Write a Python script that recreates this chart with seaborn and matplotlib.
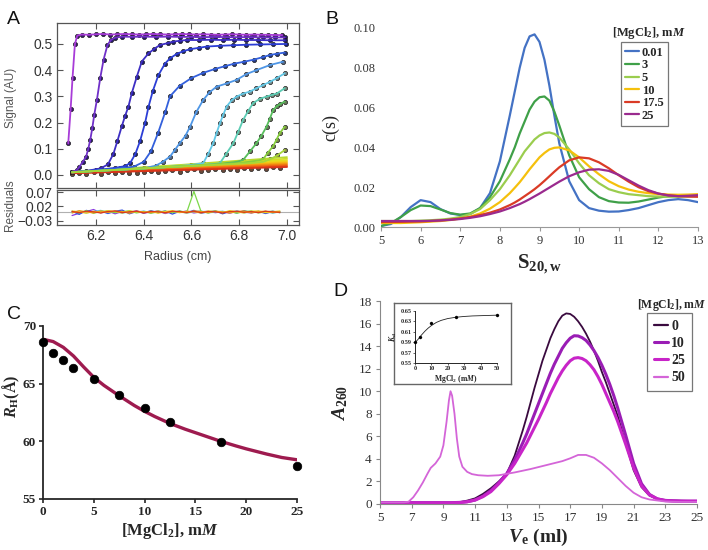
import numpy as np
import pandas as pd
import matplotlib
matplotlib.use('Agg')
import matplotlib.pyplot as plt
import seaborn as sns
from matplotlib.lines import Line2D

# ---------------- data: panel A (sedimentation boundaries) ----------------
r1 = [6.084, 6.094, 6.102, 6.112, 6.122, 6.14, 6.17, 6.20, 6.23, 6.26, 6.29, 6.32, 6.35, 6.38, 6.41, 6.44, 6.47,
      6.50, 6.53, 6.56, 6.59, 6.62, 6.65, 6.68, 6.71, 6.74, 6.77, 6.80, 6.83, 6.86, 6.89, 6.92, 6.95, 6.98]
s1 = [0.12, 0.25, 0.37, 0.50, 0.532, 0.536, 0.535, 0.537, 0.538, 0.536, 0.537, 0.538, 0.537, 0.536, 0.537, 0.538,
      0.537, 0.536, 0.537, 0.538, 0.537, 0.536, 0.537, 0.536, 0.535, 0.536, 0.537, 0.536, 0.535, 0.536, 0.535,
      0.535, 0.534, 0.534]
r2 = [6.10, 6.12, 6.13, 6.145, 6.159, 6.168, 6.176, 6.185, 6.193, 6.204, 6.218, 6.232, 6.248, 6.262, 6.28, 6.31,
      6.35, 6.40, 6.45, 6.50, 6.55, 6.60, 6.65, 6.70, 6.75, 6.80, 6.85, 6.90, 6.95, 6.99]
s2 = [0.012, 0.018, 0.03, 0.05, 0.07, 0.10, 0.133, 0.18, 0.23, 0.286, 0.37, 0.44, 0.495, 0.515, 0.524, 0.528, 0.527,
      0.528, 0.527, 0.528, 0.527, 0.527, 0.526, 0.527, 0.526, 0.526, 0.526, 0.525, 0.525, 0.525]
r3 = [6.10, 6.16, 6.22, 6.25, 6.273, 6.29, 6.308, 6.322, 6.336, 6.35, 6.371, 6.392, 6.42, 6.445, 6.468, 6.50, 6.524,
      6.55, 6.58, 6.63, 6.68, 6.73, 6.78, 6.83, 6.88, 6.93, 6.99]
s3 = [0.010, 0.015, 0.025, 0.04, 0.08, 0.13, 0.185, 0.225, 0.261, 0.312, 0.375, 0.433, 0.464, 0.482, 0.496, 0.503,
      0.509, 0.512, 0.515, 0.515, 0.516, 0.515, 0.516, 0.515, 0.515, 0.514, 0.514]
r4 = [6.10, 6.20, 6.28, 6.32, 6.343, 6.365, 6.385, 6.406, 6.420, 6.438, 6.461, 6.489, 6.51, 6.538, 6.565, 6.594,
      6.63, 6.663, 6.72, 6.774, 6.83, 6.885, 6.94, 6.997]
s4 = [0.010, 0.018, 0.027, 0.033, 0.045, 0.08, 0.13, 0.2, 0.26, 0.32, 0.38, 0.425, 0.445, 0.462, 0.472, 0.48, 0.485,
      0.49, 0.493, 0.495, 0.497, 0.498, 0.499, 0.50]
r5 = [6.10, 6.20, 6.30, 6.36, 6.40, 6.43, 6.46, 6.49, 6.51, 6.55, 6.60, 6.65, 6.70, 6.74, 6.78, 6.82, 6.86, 6.90,
      6.93, 6.96, 6.99]
s5 = [0.010, 0.017, 0.025, 0.032, 0.05, 0.09, 0.16, 0.24, 0.30, 0.34, 0.37, 0.39, 0.405, 0.415, 0.425, 0.432, 0.44,
      0.45, 0.458, 0.463, 0.467]
r6 = [6.10, 6.25, 6.40, 6.45, 6.48, 6.51, 6.53, 6.55, 6.575, 6.594, 6.62, 6.649, 6.675, 6.705, 6.75, 6.789, 6.83,
      6.872, 6.93, 6.983]
s6 = [0.01, 0.018, 0.025, 0.035, 0.05, 0.07, 0.095, 0.12, 0.15, 0.184, 0.24, 0.286, 0.315, 0.337, 0.35, 0.363, 0.385,
      0.40, 0.42, 0.432]
r7 = [6.10, 6.30, 6.50, 6.60, 6.649, 6.67, 6.691, 6.705, 6.719, 6.733, 6.747, 6.768, 6.789, 6.815, 6.844, 6.87,
      6.900, 6.93, 6.956, 6.990]
s7 = [0.01, 0.02, 0.03, 0.038, 0.045, 0.08, 0.121, 0.16, 0.197, 0.23, 0.261, 0.285, 0.299, 0.31, 0.318, 0.33, 0.343,
      0.356, 0.369, 0.388]
r8 = [6.10, 6.35, 6.60, 6.70, 6.719, 6.745, 6.775, 6.796, 6.816, 6.838, 6.858, 6.885, 6.914, 6.935, 6.956, 6.99]
s8 = [0.01, 0.022, 0.035, 0.042, 0.045, 0.08, 0.121, 0.165, 0.21, 0.245, 0.274, 0.29, 0.299, 0.305, 0.31, 0.331]
r9 = [6.10, 6.40, 6.70, 6.79, 6.816, 6.845, 6.872, 6.893, 6.914, 6.928, 6.942, 6.956, 6.97, 6.99]
s9 = [0.01, 0.025, 0.04, 0.05, 0.057, 0.09, 0.121, 0.15, 0.184, 0.215, 0.248, 0.262, 0.27, 0.28]
r10 = [6.10, 6.45, 6.80, 6.88, 6.90, 6.92, 6.942, 6.956, 6.97, 6.99]
s10 = [0.01, 0.028, 0.045, 0.055, 0.06, 0.085, 0.11, 0.135, 0.16, 0.184]
r11 = [6.10, 6.50, 6.85, 6.90, 6.93, 6.96, 6.99]
s11 = [0.01, 0.03, 0.045, 0.05, 0.06, 0.075, 0.095]
scan_colors = ['#A83CD8', '#7030C8', '#3D2EC4', '#2C3ED6', '#3360DC', '#4E96E6', '#62C8E6', '#5CCCB4',
               '#58BE5C', '#86CE3E', '#A6D63A']
dot_faces = ['#3a1a6a', '#2a1a70', '#201a70', '#1e2470', '#283a80', '#5a6a85', '#7a8a8a', '#7a8a7a',
             '#6a7a5a', '#7a8a4a', '#8a8a4a']

# late scans that never leave the baseline
base_r = [6.10, 6.55, 7.00]
base_s = [[0.012, 0.038, 0.068], [0.012, 0.036, 0.062], [0.011, 0.033, 0.057], [0.011, 0.031, 0.053],
          [0.010, 0.029, 0.049], [0.010, 0.027, 0.045], [0.009, 0.025, 0.041], [0.008, 0.023, 0.037],
          [0.007, 0.020, 0.033], [0.006, 0.018, 0.030]]
base_colors = ['#B8DA30', '#CCDC28', '#DDE020', '#EAD81A', '#F2C414', '#F5A812', '#F38A10', '#EE6A12',
               '#E84A14', '#D8321A']

grid_r = [6.10, 6.13, 6.16, 6.19, 6.22, 6.25, 6.28, 6.31, 6.34, 6.37, 6.40, 6.43, 6.46, 6.49, 6.52, 6.55, 6.58,
          6.61, 6.64, 6.67, 6.70, 6.73, 6.76, 6.79, 6.82, 6.85, 6.88, 6.91, 6.94, 6.97]
base_dots = [0.002, 0.008, 0.004, 0.010, 0.005, 0.011, 0.007, 0.013, 0.009, 0.006, 0.012, 0.016, 0.010, 0.014,
             0.018, 0.013, 0.017, 0.021, 0.015, 0.019, 0.023, 0.018, 0.024, 0.020, 0.026, 0.022, 0.028, 0.024,
             0.030, 0.026]

res_purple = [-0.012, -0.004, 0.002, 0.009, -0.003, 0.004, -0.006, 0.002, -0.002, 0.005, -0.004, 0.001, 0.003,
              -0.005, 0.002, -0.001, 0.004, -0.003, 0.001, 0.003, -0.002, 0.002, -0.004, 0.003, 0.000, -0.003,
              0.002, -0.001, 0.003, -0.002]
res_blue = [0.003, -0.008, 0.006, -0.002, 0.004, -0.005, 0.003, 0.007, -0.006, 0.002, -0.003, 0.005, -0.002, 0.004,
            -0.007, 0.003, -0.002, 0.006, -0.004, 0.001, 0.004, -0.006, 0.002, -0.003, 0.005, -0.002, 0.003,
            -0.005, 0.002, 0.001]
res_cyan = [-0.002, 0.004, -0.003, 0.002, 0.006, -0.002, 0.003, -0.004, 0.002, -0.001, 0.004, -0.003, 0.005,
            -0.002, 0.001, 0.003, -0.004, 0.002, 0.004, -0.003, 0.001, 0.003, -0.002, 0.004, -0.003, 0.002,
            -0.001, 0.003, -0.004, 0.002]
res_green = [0.001, -0.003, 0.005, -0.004, 0.002, 0.004, -0.002, 0.001, 0.005, -0.003, 0.002, -0.004, 0.001, 0.003,
             -0.002, 0.004, -0.001, 0.072, 0.002, -0.003, 0.004, -0.002, 0.003, -0.004, 0.002, 0.004, -0.003,
             0.001, 0.003, -0.002]
res_yellow = [0.004, 0.001, -0.004, 0.003, -0.002, 0.005, 0.002, -0.003, 0.004, 0.001, -0.002, 0.003, -0.004,
              0.002, 0.005, -0.002, 0.003, 0.001, -0.003, 0.004, 0.002, -0.002, 0.005, 0.001, -0.003, 0.003,
              0.004, -0.002, 0.001, 0.004]
res_orange = [-0.003, 0.005, 0.001, -0.003, 0.004, -0.001, 0.003, 0.002, -0.004, 0.003, 0.001, -0.002, 0.004,
              -0.003, 0.002, 0.001, -0.003, 0.004, 0.002, -0.002, 0.003, 0.001, -0.003, 0.002, 0.004, -0.003,
              0.002, 0.003, -0.002, 0.001]
res_red = [0.002, -0.002, 0.003, 0.001, -0.003, 0.002, 0.004, -0.002, 0.001, 0.003, -0.003, 0.002, 0.001, -0.002,
           0.003, 0.002, -0.001, 0.003, -0.002, 0.002, 0.001, -0.003, 0.002, 0.003, -0.001, 0.002, -0.002, 0.003,
           0.001, -0.001]
res_colors = ['#8A3BE0', '#2E4AE0', '#5CC8E8', '#7CD84A', '#F0D020', '#F29A14', '#DC3A1A']

# ---------------- data: panel B (c(s) distributions) ----------------
s_grid = [5.0, 5.25, 5.5, 5.75, 6.0, 6.25, 6.5, 6.75, 7.0, 7.25, 7.5, 7.75, 8.0, 8.25, 8.375, 8.5, 8.625, 8.75,
          8.875, 9.0, 9.125, 9.25, 9.375, 9.5, 9.75, 10.0, 10.25, 10.5, 10.75, 11.0, 11.25, 11.5, 11.75, 12.0,
          12.25, 12.5, 12.75, 13.0]
cs_001 = [0.0005, 0.0015, 0.005, 0.010, 0.0135, 0.0125, 0.009, 0.0068, 0.006, 0.0065, 0.0095, 0.017, 0.033, 0.056,
          0.068, 0.080, 0.090, 0.0958, 0.0968, 0.093, 0.084, 0.071, 0.056, 0.042, 0.023, 0.0135, 0.0095, 0.0082,
          0.0077, 0.0078, 0.0085, 0.0095, 0.011, 0.0125, 0.0135, 0.014, 0.0135, 0.0125]
cs_3 = [0.0005, 0.002, 0.005, 0.0085, 0.0108, 0.0105, 0.0088, 0.007, 0.0062, 0.0068, 0.0095, 0.015, 0.023, 0.034,
        0.040, 0.047, 0.053, 0.059, 0.063, 0.0652, 0.0656, 0.0635, 0.058, 0.051, 0.036, 0.025, 0.019, 0.015,
        0.013, 0.0123, 0.0122, 0.0128, 0.0138, 0.0148, 0.0155, 0.0158, 0.0158, 0.0157]
cs_5 = [0.003, 0.003, 0.003, 0.003, 0.0032, 0.0034, 0.0037, 0.0042, 0.005, 0.0065, 0.009, 0.0135, 0.019, 0.026,
        0.030, 0.034, 0.038, 0.041, 0.044, 0.046, 0.0472, 0.0475, 0.0468, 0.045, 0.039, 0.032, 0.026, 0.022, 0.019,
        0.0175, 0.0165, 0.016, 0.0155, 0.0153, 0.0152, 0.0152, 0.0153, 0.0155]
cs_10 = [0.002, 0.002, 0.002, 0.0022, 0.0024, 0.0027, 0.003, 0.0035, 0.0042, 0.0052, 0.0068, 0.0092, 0.0125, 0.017,
         0.0197, 0.0225, 0.0257, 0.029, 0.032, 0.035, 0.0372, 0.039, 0.0398, 0.040, 0.0385, 0.035, 0.0305, 0.0265,
         0.023, 0.0205, 0.0188, 0.0177, 0.017, 0.0165, 0.0163, 0.0162, 0.0163, 0.0165]
cs_175 = [0.0025, 0.0025, 0.0026, 0.0027, 0.0028, 0.003, 0.0033, 0.0037, 0.0043, 0.005, 0.006, 0.0072, 0.0088,
          0.011, 0.0123, 0.0138, 0.0155, 0.0172, 0.019, 0.021, 0.0232, 0.0255, 0.0278, 0.030, 0.0335, 0.035, 0.0345,
          0.0325, 0.0295, 0.026, 0.0228, 0.020, 0.018, 0.0168, 0.016, 0.0155, 0.0153, 0.0152]
cs_25 = [0.003, 0.003, 0.003, 0.003, 0.003, 0.0031, 0.0033, 0.0036, 0.004, 0.0046, 0.0054, 0.0065, 0.0078, 0.0095,
         0.0105, 0.0115, 0.0127, 0.014, 0.0154, 0.0168, 0.0183, 0.0198, 0.0213, 0.0228, 0.0255, 0.0275, 0.0288,
         0.029, 0.0282, 0.0262, 0.0235, 0.0208, 0.0185, 0.0168, 0.0158, 0.0155, 0.0157, 0.016]
b_labels = ['0.01', '3', '5', '10', '17.5', '25']
b_colors = ['#4472C4', '#3FA048', '#9ACD4E', '#F5C00C', '#DA3B26', '#9A2A8E']

# ---------------- data: panel C (hydrodynamic radius) ----------------
mg_c = [0, 1, 2, 3, 5, 7.5, 10, 12.5, 17.5, 25]
rh_c = [68.64, 67.63, 67.05, 66.33, 65.38, 63.99, 62.86, 61.65, 59.97, 57.86]
fit_x_c = [0, 1, 2, 3, 4, 5, 6, 7.5, 9, 10, 11, 12.5, 14, 15.5, 17.5, 19, 20, 22, 23.5, 25]
fit_y_c = [68.85, 68.65, 68.15, 67.4, 66.45, 65.55, 64.85, 63.95, 63.1, 62.6, 62.15, 61.55, 61.05, 60.6, 60.0,
           59.6, 59.35, 58.9, 58.6, 58.4]

# ---------------- data: panel D (size exclusion) ----------------
ve_grid = [5, 5.5, 6, 6.5, 7, 7.5, 8, 8.5, 9, 9.5, 10, 10.5, 11, 11.5, 12, 12.5, 13, 13.5,
           14, 14.25, 14.5, 14.75, 15, 15.25, 15.5, 15.75, 16, 16.25, 16.5, 16.75, 17, 17.25, 17.5, 17.75, 18,
           18.25, 18.5, 18.75, 19, 19.25, 19.5, 19.75, 20,
           20.5, 21, 21.5, 22, 22.5, 23, 23.5, 24, 24.5, 25]
a_0 = [0.08, 0.08, 0.08, 0.08, 0.08, 0.08, 0.08, 0.09, 0.1, 0.1, 0.15, 0.3, 0.5, 0.9, 1.4, 2.0, 2.7, 4.3,
       6.5, 7.7, 9.0, 10.3, 11.5, 12.7, 13.7, 14.7, 15.5, 16.2, 16.7, 16.9, 16.85, 16.6, 16.2, 15.7, 15.1,
       14.4, 13.6, 12.7, 11.7, 10.8, 9.8, 8.8, 7.8,
       5.4, 3.0, 1.5, 0.75, 0.45, 0.33, 0.3, 0.28, 0.27, 0.27]
a_10 = [0.12, 0.12, 0.12, 0.12, 0.12, 0.12, 0.12, 0.12, 0.12, 0.12, 0.14, 0.2, 0.35, 0.7, 1.2, 1.9, 2.7, 3.9,
        5.4, 6.2, 7.1, 8.0, 8.9, 9.8, 10.7, 11.6, 12.4, 13.1, 13.8, 14.3, 14.7, 14.92, 14.9, 14.75, 14.5,
        14.1, 13.6, 13.0, 12.3, 11.5, 10.6, 9.6, 8.5,
        6.1, 3.6, 1.8, 0.85, 0.45, 0.32, 0.28, 0.26, 0.25, 0.25]
a_25 = [0.1, 0.1, 0.1, 0.1, 0.1, 0.1, 0.1, 0.1, 0.1, 0.1, 0.12, 0.2, 0.35, 0.65, 1.1, 1.8, 2.6, 3.6,
        4.8, 5.4, 6.1, 6.8, 7.5, 8.25, 9.0, 9.8, 10.5, 11.2, 11.8, 12.3, 12.7, 12.93, 12.98, 12.9, 12.7,
        12.35, 11.9, 11.3, 10.6, 9.8, 9.0, 8.2, 7.3,
        5.3, 3.2, 1.6, 0.8, 0.45, 0.3, 0.27, 0.25, 0.25, 0.25]
ve_50 = [5, 6, 6.5, 6.8, 7.1, 7.4, 7.7, 8.0, 8.2, 8.5, 8.8, 9.0, 9.2, 9.35, 9.45, 9.55, 9.7, 9.85, 10.0, 10.2, 10.5,
         10.8, 11.2, 11.8, 12.5, 13.5, 14.5, 15.5, 16.5, 17.0, 17.5, 18.0, 18.5, 19.0, 19.5, 20.0, 20.5, 21.0, 21.5,
         22.0, 23.0, 24.0, 25.0]
a_50 = [0.15, 0.15, 0.15, 0.2, 0.6, 1.2, 1.9, 2.7, 3.2, 3.6, 4.2, 5.2, 7.3, 9.2, 10.0, 9.6, 8.0, 5.8, 4.2, 3.3,
        2.85, 2.65, 2.55, 2.5, 2.55, 2.8, 3.1, 3.45, 3.8, 4.05, 4.35, 4.35, 4.1, 3.6, 3.0, 2.3, 1.6, 1.0, 0.6, 0.4,
        0.22, 0.18, 0.18]
d_labels = ['0', '10', '25', '50']
d_colors = ['#3A0A3F', '#9A1DB5', '#C824C8', '#D465D8']
d_widths = [1.3, 2.2, 2.2, 1.3]

kd_x = [0, 3, 10, 25, 50]
kd_y = [0.590, 0.600, 0.627, 0.639, 0.642]
kd_fit_x = [0, 2, 4, 6, 8, 10, 13, 16, 20, 25, 30, 35, 40, 45, 50]
kd_fit_y = [0.589, 0.596, 0.604, 0.611, 0.617, 0.622, 0.628, 0.632, 0.6355, 0.638, 0.6395, 0.6405, 0.641,
            0.6415, 0.642]

# ---------------- style ----------------
sns.set_style('ticks')
plt.rcParams['font.family'] = ['Liberation Sans', 'DejaVu Sans']
plt.rcParams['mathtext.fontset'] = 'custom'
plt.rcParams['mathtext.rm'] = 'Liberation Serif'
plt.rcParams['mathtext.it'] = 'Liberation Serif:italic'
plt.rcParams['mathtext.bf'] = 'Liberation Serif:bold'
plt.rcParams['mathtext.bfit'] = 'Liberation Serif:italic:bold'
SERIF = ['Liberation Serif', 'DejaVu Serif']

fig = plt.figure(figsize=(7.08, 5.5), dpi=100)
W, H = 708.0, 550.0


def px_axes(left, top, right, bottom):
    return fig.add_axes([left / W, 1 - bottom / H, (right - left) / W, (bottom - top) / H])


# ================= Panel A =================
axA = px_axes(57, 23, 299, 188)
axR = px_axes(57, 190, 299, 225)

scans_r = [r1, r2, r3, r4, r5, r6, r7, r8, r9, r10, r11]
scans_s = [s1, s2, s3, s4, s5, s6, s7, s8, s9, s10, s11]
for rb, col in zip(base_s, base_colors):
    sns.lineplot(x=base_r, y=rb, color=col, lw=1.2, ax=axA, estimator=None, zorder=3)
sns.scatterplot(x=grid_r, y=base_dots, color='#6a4a3a', edgecolor='#222', s=9, linewidth=0.5, ax=axA, zorder=2)
for rr, ss, col, fc in zip(scans_r, scans_s, scan_colors, dot_faces):
    sns.scatterplot(x=rr, y=ss, color=fc, edgecolor='#1a1a1a', s=9, linewidth=0.5, ax=axA, zorder=2)
    sns.lineplot(x=rr, y=ss, color=col, lw=1.3, ax=axA, estimator=None, zorder=3)

axA.set_xlim(6.037, 7.05)
axA.set_ylim(-0.05, 0.58)
axA.set_yticks([0.0, 0.1, 0.2, 0.3, 0.4, 0.5])
axA.set_yticklabels(['0.0', '0.1', '0.2', '0.3', '0.4', '0.5'])
axA.set_xticks([6.2, 6.4, 6.6, 6.8, 7.0])
axA.tick_params(labelbottom=False)

axR.axhline(0, color='#b0b0b0', lw=0.8, zorder=1)
for rs, col in zip([res_purple, res_blue, res_cyan, res_green, res_yellow, res_orange, res_red], res_colors):
    sns.lineplot(x=grid_r, y=rs, color=col, lw=0.9, ax=axR, estimator=None)
axR.set_xlim(6.037, 7.05)
axR.set_ylim(-0.045, 0.077)
axR.set_yticks([-0.03, 0.02, 0.07])
axR.set_yticklabels(['\u22120.03', '0.02', '0.07'])
axR.set_xticks([6.2, 6.4, 6.6, 6.8, 7.0])
axR.set_xticklabels(['6.2', '6.4', '6.6', '6.8', '7.0'])

for ax in (axA, axR):
    ax.tick_params(direction='in', top=True, right=True, length=4, width=0.8, color='#555',
                   labelsize=10, labelcolor='#333', pad=3)
    for sp in ax.spines.values():
        sp.set_color('#555')
        sp.set_linewidth(0.9)
    ax.set_xlabel('')
    ax.set_ylabel('')

fig.text(11 / W, 1 - 98 / H, 'Signal (AU)', rotation=90, ha='center', va='center', fontsize=8.5, color='#555')
fig.text(10 / W, 1 - 205 / H, 'Residuals', rotation=90, ha='center', va='center', fontsize=8.5, color='#555')
fig.text(178 / W, 1 - 257 / H, 'Radius (cm)', ha='center', va='center', fontsize=9, color='#444')

# ================= Panel B =================
axB = px_axes(381, 28, 698, 227)
df_b = pd.DataFrame({'S': s_grid * 6,
                     'c': cs_001 + cs_3 + cs_5 + cs_10 + cs_175 + cs_25,
                     'mg': np.repeat(b_labels, len(s_grid))})
sns.lineplot(data=df_b, x='S', y='c', hue='mg', hue_order=b_labels, palette=b_colors, lw=1.6,
             estimator=None, legend=False, ax=axB)
axB.set_xlim(5, 13)
axB.set_ylim(0, 0.10)
axB.set_xticks(range(5, 14))
axB.set_yticks([0.0, 0.02, 0.04, 0.06, 0.08, 0.10])
axB.set_yticklabels(['0.00', '0.02', '0.04', '0.06', '0.08', '0.10'])
sns.despine(ax=axB, left=True)
axB.spines['bottom'].set_color('#999')
axB.tick_params(axis='x', length=3, color='#999', labelsize=9, labelcolor='#333', pad=3)
axB.tick_params(axis='y', length=0, labelsize=9, labelcolor='#333', pad=4)
for lab in axB.get_xticklabels() + axB.get_yticklabels():
    lab.set_family(SERIF)
axB.set_xlabel(r'$\mathbf{S_{20,w}}$', fontsize=15, labelpad=4)
axB.set_ylabel('c(s)', fontsize=13, family=SERIF, labelpad=10)
hb = [Line2D([0], [0], color=c, lw=1.6) for c in b_colors]
legB = axB.legend(hb, b_labels, loc='upper left', bbox_to_anchor=(0.757, 0.928), frameon=True, fancybox=False,
                  prop={'family': SERIF, 'weight': 'bold', 'size': 9}, handlelength=1.1, handletextpad=0.2,
                  labelspacing=0.05, borderpad=0.35, borderaxespad=0)
legB.get_frame().set_edgecolor('#555')
legB.get_frame().set_linewidth(0.9)
axB.text(0.845, 0.975, r'[MgCl$_\mathbf{2}$], m$\mathbfit{M}$', transform=axB.transAxes, ha='center',
         va='center', fontsize=9, family=SERIF, weight='bold')

# ================= Panel C =================
axC = px_axes(43, 326, 297, 499)
sns.lineplot(x=fit_x_c, y=fit_y_c, color='#9E1B4F', lw=2.4, ax=axC, estimator=None, zorder=2)
sns.scatterplot(x=mg_c, y=rh_c, color='black', s=38, edgecolor='black', ax=axC, zorder=3, clip_on=False)
axC.set_xlim(0, 25)
axC.set_ylim(55, 70)
axC.set_xticks([0, 5, 10, 15, 20, 25])
axC.set_yticks([55, 60, 65, 70])
sns.despine(ax=axC)
for sp in ('left', 'bottom'):
    axC.spines[sp].set_linewidth(1.3)
axC.tick_params(length=3, width=1.2, labelsize=9.5, pad=2)
for lab in axC.get_xticklabels() + axC.get_yticklabels():
    lab.set_family(SERIF)
    lab.set_weight('bold')
axC.set_xlabel(r'[MgCl$_\mathbf{2}$], m$\mathbfit{M}$', fontsize=12, family=SERIF, weight='bold', labelpad=2)
axC.set_ylabel('')
fig.text(11 / W, 1 - 396 / H, r'$\mathbfit{R}_\mathbf{H}$(Å)', rotation=90, ha='center', va='center',
         fontsize=11.5, family=SERIF, weight='bold')

# ================= Panel D =================
axD = px_axes(380, 301, 697, 504)
df_d = pd.DataFrame({'V': ve_grid * 3 + ve_50,
                     'A': a_0 + a_10 + a_25 + a_50,
                     'mg': ['0'] * len(ve_grid) + ['10'] * len(ve_grid) + ['25'] * len(ve_grid)
                     + ['50'] * len(ve_50)})
for lab, col, lw in zip(d_labels, d_colors, d_widths):
    sub = df_d[df_d['mg'] == lab]
    sns.lineplot(data=sub, x='V', y='A', color=col, lw=lw, estimator=None, ax=axD)
axD.set_xlim(5, 25)
axD.set_ylim(0, 18)
axD.set_xticks(range(5, 26, 2))
axD.set_yticks(range(0, 19, 2))
sns.despine(ax=axD)
axD.spines['left'].set_color('#888')
axD.spines['bottom'].set_color('#888')
axD.tick_params(length=3, color='#888', labelsize=9.5, labelcolor='#333', pad=3)
for lab in axD.get_xticklabels() + axD.get_yticklabels():
    lab.set_family(SERIF)
axD.set_xlabel(r'$\mathbfit{V}_\mathbf{e}$ (ml)', fontsize=14, family=SERIF, weight='bold', labelpad=2)
axD.set_ylabel(r'$\mathbfit{A}_\mathbf{260}$', fontsize=14, family=SERIF, weight='bold', labelpad=6)
hd = [Line2D([0], [0], color=c, lw=w) for c, w in zip(d_colors, [1.6, 2.2, 2.2, 1.6])]
legD = axD.legend(hd, d_labels, loc='upper left', bbox_to_anchor=(0.842, 0.941), frameon=True, fancybox=False,
                  prop={'family': SERIF, 'weight': 'bold', 'size': 10}, handlelength=1.0, handletextpad=0.25,
                  labelspacing=0.3, borderpad=0.5, borderaxespad=0)
legD.get_frame().set_edgecolor('#555')
legD.get_frame().set_linewidth(0.9)
fig.text(672 / W, 1 - 305 / H, r'[MgCl$_\mathbf{2}$], m$\mathbfit{M}$', ha='center', va='center',
         fontsize=8.5, family=SERIF, weight='bold')

# inset: K_d vs MgCl2
frame = px_axes(394, 303, 511, 384)
frame.set_xticks([])
frame.set_yticks([])
for sp in frame.spines.values():
    sp.set_color('#666')
    sp.set_linewidth(1.0)
axI = px_axes(415, 311, 497, 363)
sns.lineplot(x=kd_fit_x, y=kd_fit_y, color='#222', lw=0.6, ax=axI, estimator=None)
sns.scatterplot(x=kd_x, y=kd_y, color='black', s=5, edgecolor='black', ax=axI, zorder=3, clip_on=False)
axI.set_xlim(0, 50)
axI.set_ylim(0.55, 0.65)
axI.set_xticks([0, 10, 20, 30, 40, 50])
axI.set_yticks([0.55, 0.57, 0.59, 0.61, 0.63, 0.65])
axI.set_yticklabels(['0.55', '0.57', '0.59', '0.61', '0.63', '0.65'])
sns.despine(ax=axI)
axI.tick_params(length=1.5, width=0.5, labelsize=4.5, pad=1)
for lab in axI.get_xticklabels() + axI.get_yticklabels():
    lab.set_family(SERIF)
    lab.set_weight('bold')
for sp in ('left', 'bottom'):
    axI.spines[sp].set_linewidth(0.7)
axI.set_xlabel(r'MgCl$_\mathbf{2}$ (m$\mathbfit{M}$)', fontsize=5.5, family=SERIF, weight='bold', labelpad=1)
axI.set_ylabel(r'$\mathbfit{K}_\mathbf{d}$', fontsize=5.5, family=SERIF, weight='bold', labelpad=1)

# panel letters
for letter, x, y in [('A', 7, 11), ('B', 325, 11), ('C', 7, 306), ('D', 333, 283)]:
    fig.text(x / W, 1 - y / H, letter, ha='left', va='top', fontsize=14, color='#111')

fig.savefig('out.png', dpi=100)
